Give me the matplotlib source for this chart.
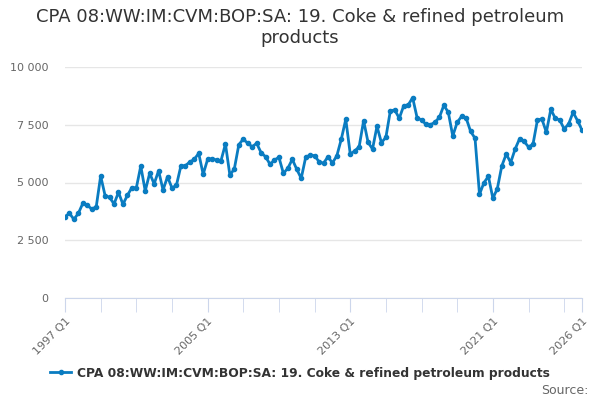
import numpy as np
import matplotlib.pyplot as plt
from matplotlib.ticker import FuncFormatter

# quarterly values, 1997 Q1 .. 2026 Q1
values = [3520, 3666, 3405, 3666, 4100, 4013, 3853, 3940, 5281, 4430,
          4359, 4069, 4576, 4056, 4446, 4775, 4762, 5714, 4632, 5400,
          4940, 5511, 4675, 5251, 4762, 4879, 5714, 5727, 5887, 6004,
          6264, 5355, 6004, 6030, 5974, 5944, 6667, 5311, 5597, 6636,
          6880, 6697, 6550, 6697, 6290, 6117, 5788, 5974, 6091, 5398,
          5615, 6004, 5571, 5182, 6091, 6190, 6160, 5900, 5831, 6117,
          5845, 6160, 6883, 7736, 6234, 6364, 6550, 7675, 6740, 6450,
          7433, 6723, 6957, 8108, 8138, 7779, 8325, 8355, 8671, 7805,
          7700, 7520, 7502, 7606, 7822, 8342, 8039, 7013, 7606, 7866,
          7792, 7216, 6913, 4489, 4991, 5268, 4316, 4732, 5714, 6230,
          5865, 6450, 6896, 6783, 6537, 6653, 7706, 7749, 7173, 8168,
          7779, 7706, 7316, 7532, 8039, 7675, 7273]
quarters = ['%d Q%d' % (1997 + i // 4, i % 4 + 1) for i in range(len(values))]
tick_labels = ['1997 Q1', '2005 Q1', '2013 Q1', '2021 Q1', '2026 Q1']
series_name = 'CPA 08:WW:IM:CVM:BOP:SA: 19. Coke & refined petroleum products'

plt.rcParams['font.family'] = ['DejaVu Sans']
fig = plt.figure(figsize=(6, 4), dpi=100)
ax = fig.add_axes([65/600, 1-298/400, 517/600, 231/400])

x = np.arange(len(values))
line, = ax.plot(x, values, color='#0a7cc1', lw=2, marker='o', ms=3, label=series_name)

ax.set_xlim(0, len(values)-1)
ax.set_ylim(0, 10000)
ax.set_yticks([0, 2500, 5000, 7500, 10000])
ax.yaxis.set_major_formatter(FuncFormatter(lambda v, p: '{:,.0f}'.format(v).replace(',', ' ')))
ax.grid(axis='y', color='#e6e6e6', lw=1)
ax.set_axisbelow(True)

# minor ticks every 2 years, labels at selected quarters
minor = list(range(0, len(values), 8)) + [len(values)-1]
ax.set_xticks(minor, minor=True)
ax.set_xticks([quarters.index(t) for t in tick_labels])
ax.set_xticklabels(tick_labels, rotation=45, ha='right', rotation_mode='anchor')
ax.tick_params(axis='x', which='both', length=10, color='#ccd6eb', labelcolor='#666666',
               labelsize=8, pad=3)
ax.tick_params(axis='y', length=0, labelcolor='#666666', labelsize=8, pad=12)

for s in ['top', 'right', 'left']:
    ax.spines[s].set_visible(False)
ax.spines['bottom'].set_color('#ccd6eb')

fig.text(0.5, 1-8/400, 'CPA 08:WW:IM:CVM:BOP:SA: 19. Coke & refined petroleum\nproducts',
         ha='center', va='top', fontsize=13, color='#333333', linespacing=1.2)
leg = fig.legend(handles=[line], loc='center', bbox_to_anchor=(0.5, 1-373/400), frameon=False,
                 prop={'weight': 'bold', 'size': 8.8}, handlelength=1.7, handletextpad=0.5)
for t in leg.get_texts():
    t.set_color('#333333')
fig.text(588/600, 1-390/400, 'Source:', ha='right', va='center', fontsize=9, color='#666666')

fig.savefig('out.png', dpi=100)
